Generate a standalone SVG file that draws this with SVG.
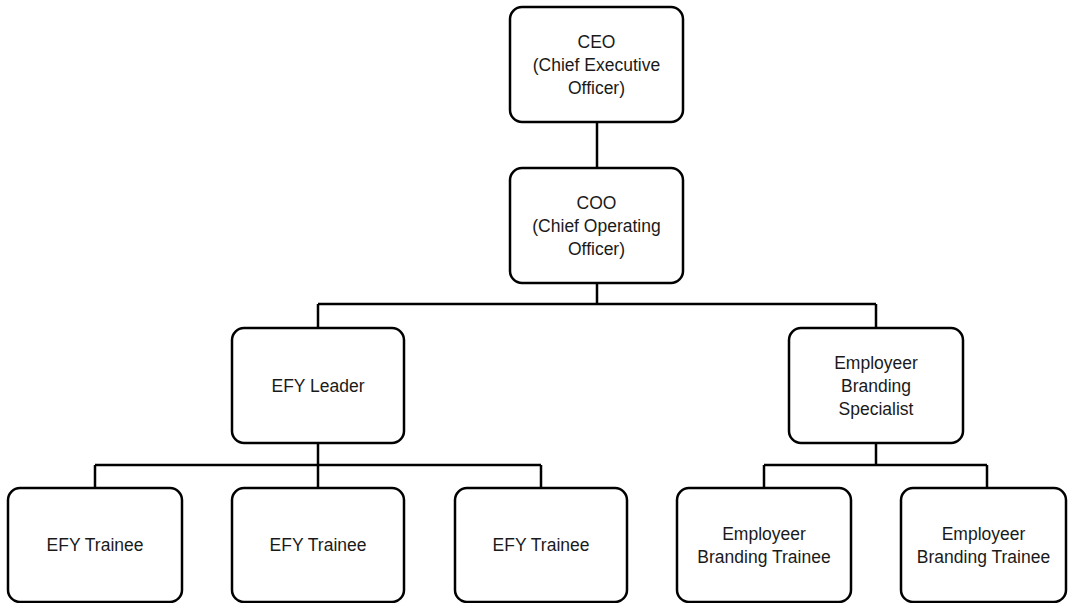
<svg xmlns="http://www.w3.org/2000/svg" width="1068" height="603" viewBox="0 0 1068 603">
<style>
.box{fill:#fff;stroke:#000;stroke-width:2.5}
.lbl{font-family:"Liberation Sans",Arial,sans-serif;font-size:17.5px;fill:#1a1a1a;text-anchor:middle}
.conn{fill:none;stroke:#000;stroke-width:2.5}
</style>
<rect width="1068" height="603" fill="#fff"/>
<g id="connectors">
<path class="conn" d="M597 122V168"/>
<path class="conn" d="M597 283V304M318 304H876M318 304V328M876 304V328"/>
<path class="conn" d="M318 443V465M95 465H541M95 465V488M318 465V488M541 465V488"/>
<path class="conn" d="M876 443V465M764 465H987M764 465V488M987 465V488"/>
</g>
<g id="ceo"><rect class="box" x="510" y="7" width="173" height="115" rx="12"/>
<text class="lbl" x="596.5"><tspan x="596.5" y="48">CEO</tspan><tspan x="596.5" y="71">(Chief Executive</tspan><tspan x="596.5" y="94">Officer)</tspan></text></g>
<g id="coo"><rect class="box" x="510" y="168" width="173" height="115" rx="12"/>
<text class="lbl"><tspan x="596.5" y="209">COO</tspan><tspan x="596.5" y="232">(Chief Operating</tspan><tspan x="596.5" y="255">Officer)</tspan></text></g>
<g id="efy-leader"><rect class="box" x="232" y="328" width="172" height="115" rx="12"/>
<text class="lbl" x="318" y="391.5">EFY Leader</text></g>
<g id="eb-specialist"><rect class="box" x="789" y="328" width="174" height="115" rx="12"/>
<text class="lbl"><tspan x="876" y="368.5">Employeer</tspan><tspan x="876" y="391.5">Branding</tspan><tspan x="876" y="414.5">Specialist</tspan></text></g>
<g id="efy-trainee-1"><rect class="box" x="8" y="488" width="174" height="114" rx="12"/>
<text class="lbl" x="95" y="551">EFY Trainee</text></g>
<g id="efy-trainee-2"><rect class="box" x="232" y="488" width="172" height="114" rx="12"/>
<text class="lbl" x="318" y="551">EFY Trainee</text></g>
<g id="efy-trainee-3"><rect class="box" x="455" y="488" width="172" height="114" rx="12"/>
<text class="lbl" x="541" y="551">EFY Trainee</text></g>
<g id="eb-trainee-1"><rect class="box" x="677" y="488" width="174" height="114" rx="12"/>
<text class="lbl"><tspan x="764" y="539.5">Employeer</tspan><tspan x="764" y="562.5">Branding Trainee</tspan></text></g>
<g id="eb-trainee-2"><rect class="box" x="901" y="488" width="165" height="114" rx="12"/>
<text class="lbl"><tspan x="983.5" y="539.5">Employeer</tspan><tspan x="983.5" y="562.5">Branding Trainee</tspan></text></g>
</svg>
